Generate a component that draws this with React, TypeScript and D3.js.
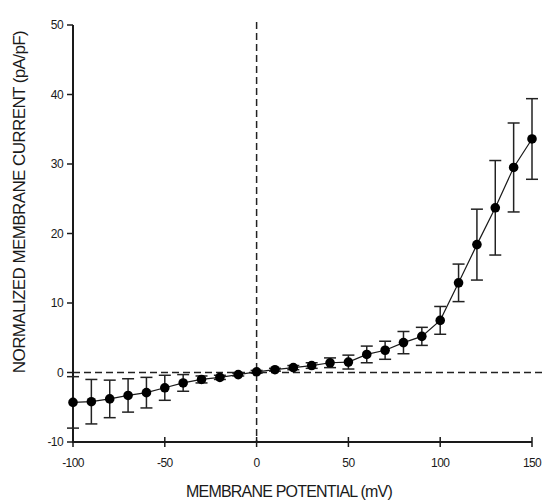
import React from "react";
import * as d3 from "d3";

const voltages = [-100, -90, -80, -70, -60, -50, -40, -30, -20, -10, 0, 10, 20, 30, 40, 50, 60, 70, 80, 90, 100, 110, 120, 130, 140, 150];
const currents = [-4.3, -4.2, -3.8, -3.3, -2.9, -2.2, -1.5, -1.0, -0.7, -0.3, 0.1, 0.4, 0.7, 1.0, 1.4, 1.5, 2.6, 3.2, 4.3, 5.2, 7.5, 12.9, 18.4, 23.7, 29.5, 33.6];
const errors = [3.7, 3.2, 2.7, 2.4, 2.2, 1.8, 1.2, 0.5, 0.3, 0.2, 0.2, 0.2, 0.3, 0.4, 0.7, 1.0, 1.2, 1.3, 1.6, 1.3, 2.0, 2.7, 5.1, 6.8, 6.4, 5.8];
const xTicks = [-100, -50, 0, 50, 100, 150];
const yTicks = [-10, 0, 10, 20, 30, 40, 50];
const xTitle = "MEMBRANE POTENTIAL (mV)";
const yTitle = "NORMALIZED MEMBRANE CURRENT (pA/pF)";

const W = 542;
const H = 504;
const left = 73;
const right = 532;
const top = 25;
const bottom = 442;

export default function App() {
  const x = d3.scaleLinear().domain([-100, 150]).range([left, right]);
  const y = d3.scaleLinear().domain([-10, 50]).range([bottom, top]);
  const line = d3
    .line<number>()
    .x((_, i) => x(voltages[i]))
    .y((d) => y(d));
  const font = "Liberation Sans, Arial, sans-serif";
  const ink = "#1a1a1a";
  return (
    <svg
      width={W}
      height={H}
      style={{ position: "absolute", left: 0, top: 0, background: "#fff" }}
      fontFamily={font}
    >
      {/* zero reference lines */}
      <line x1={left} x2={W} y1={y(0)} y2={y(0)} stroke="#222" strokeWidth={1.5} strokeDasharray="7,4" />
      <line x1={x(0)} x2={x(0)} y1={22} y2={bottom} stroke="#222" strokeWidth={1.5} strokeDasharray="7,4" />

      {/* axes */}
      <line x1={left} x2={left} y1={top} y2={bottom + 1} stroke={ink} strokeWidth={2} />
      <line x1={left} x2={right} y1={bottom} y2={bottom} stroke={ink} strokeWidth={2} />
      {yTicks.map((t) => (
        <g key={"y" + t}>
          <line x1={left - 6} x2={left} y1={y(t)} y2={y(t)} stroke={ink} strokeWidth={1.5} />
          <text x={left - 10} y={y(t)} dy="0.35em" textAnchor="end" fontSize={12} fill={ink} letterSpacing={-0.6}>
            {t}
          </text>
        </g>
      ))}
      {xTicks.map((t) => (
        <g key={"x" + t}>
          <line x1={x(t)} x2={x(t)} y1={bottom - 5} y2={bottom + 5} stroke={ink} strokeWidth={1.5} />
          <text x={x(t)} y={bottom + 25} textAnchor="middle" fontSize={12} fill={ink} letterSpacing={-0.6}>
            {t}
          </text>
        </g>
      ))}

      {/* data line */}
      <path d={line(currents) || ""} fill="none" stroke={ink} strokeWidth={1.2} />

      {/* error bars */}
      {voltages.map((v, i) => {
        const cx = x(v);
        const y1 = y(currents[i] + errors[i]);
        const y2 = y(currents[i] - errors[i]);
        return (
          <g key={"e" + v} stroke="#222" strokeWidth={1.5}>
            <line x1={cx} x2={cx} y1={y1} y2={y2} />
            <line x1={cx - 6} x2={cx + 6} y1={y1} y2={y1} />
            <line x1={cx - 6} x2={cx + 6} y1={y2} y2={y2} />
          </g>
        );
      })}

      {/* points */}
      {voltages.map((v, i) => (
        <circle key={"p" + v} cx={x(v)} cy={y(currents[i])} r={4.8} fill="#000" />
      ))}

      {/* titles */}
      <text x={289} y={497} textAnchor="middle" fontSize={16} fill={ink} letterSpacing={-0.8}>
        {xTitle}
      </text>
      <text
        transform={`translate(25, 202) rotate(-90)`}
        textAnchor="middle"
        fontSize={17}
        fill={ink}
        letterSpacing={-0.6}
      >
        {yTitle}
      </text>
    </svg>
  );
}
